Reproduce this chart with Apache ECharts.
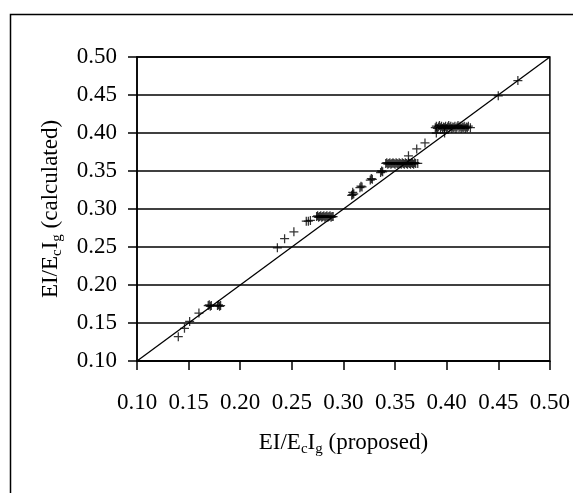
<!DOCTYPE html>
<html>
<head>
<meta charset="utf-8">
<script src="https://cdn.jsdelivr.net/npm/echarts@6/dist/echarts.min.js"></script>
<style>
  html, body { margin: 0; padding: 0; background: #fff; }
  #chart { width: 573px; height: 493px; }
</style>
</head>
<body>
<div id="chart"></div>
<script>
// points: [proposed, calculated]
var lowPoints = [[0.140, 0.132], [0.146, 0.143], [0.151, 0.152], [0.160, 0.163]];
var cluster017 = [[0.169, 0.173], [0.170, 0.174], [0.171, 0.172], [0.172, 0.173],
  [0.178, 0.173], [0.179, 0.174], [0.180, 0.172], [0.181, 0.173]];
var rising025 = [[0.236, 0.249], [0.243, 0.261], [0.252, 0.270], [0.264, 0.284], [0.266, 0.284], [0.268, 0.285]];
var cluster029 = [[0.274, 0.290], [0.275, 0.291], [0.276, 0.289], [0.277, 0.290], [0.278, 0.291], [0.279, 0.289],
  [0.280, 0.290], [0.281, 0.291], [0.282, 0.289], [0.283, 0.290], [0.284, 0.291], [0.285, 0.289],
  [0.286, 0.290], [0.287, 0.291], [0.288, 0.289], [0.289, 0.290], [0.290, 0.290]];
var rising032 = [[0.308, 0.318], [0.309, 0.322], [0.310, 0.320], [0.309, 0.319],
  [0.316, 0.328], [0.317, 0.330], [0.318, 0.329],
  [0.326, 0.338], [0.327, 0.340], [0.328, 0.339],
  [0.336, 0.348], [0.337, 0.350], [0.338, 0.349]];
var cluster036 = [[0.341, 0.360], [0.342, 0.361], [0.343, 0.359], [0.344, 0.360], [0.345, 0.361], [0.346, 0.359],
  [0.347, 0.360], [0.348, 0.361], [0.349, 0.360], [0.350, 0.359], [0.351, 0.361], [0.352, 0.360],
  [0.353, 0.359], [0.354, 0.361], [0.355, 0.360], [0.356, 0.359], [0.357, 0.361], [0.358, 0.360],
  [0.359, 0.359], [0.360, 0.361], [0.361, 0.360], [0.362, 0.359], [0.363, 0.361], [0.364, 0.360],
  [0.365, 0.359], [0.366, 0.361], [0.367, 0.360], [0.368, 0.359], [0.369, 0.361], [0.370, 0.360],
  [0.372, 0.360]];
var rising038 = [[0.363, 0.370], [0.371, 0.379], [0.379, 0.387], [0.390, 0.400], [0.398, 0.400]];
var cluster041 = [[0.389, 0.407], [0.390, 0.409], [0.391, 0.406], [0.392, 0.408], [0.393, 0.410], [0.394, 0.407],
  [0.395, 0.409], [0.396, 0.406], [0.397, 0.408], [0.398, 0.407], [0.399, 0.409], [0.400, 0.406],
  [0.401, 0.408], [0.402, 0.410], [0.403, 0.407], [0.404, 0.409], [0.405, 0.406], [0.406, 0.408],
  [0.407, 0.407], [0.408, 0.409], [0.409, 0.406], [0.410, 0.408], [0.411, 0.410], [0.412, 0.407],
  [0.413, 0.409], [0.414, 0.406], [0.415, 0.408], [0.416, 0.407], [0.417, 0.409], [0.418, 0.406],
  [0.419, 0.408], [0.420, 0.407], [0.421, 0.409], [0.423, 0.407]];
var highPoints = [[0.450, 0.449], [0.469, 0.469]];
var equalityLine = [[0.10, 0.10], [0.50, 0.50]];
var axisMin = 0.10, axisMax = 0.50, axisStep = 0.05;

var font = "'Liberation Serif', 'Times New Roman', serif";
var plus = 'path://M4.3,0H5.7V4.3H10V5.7H5.7V10H4.3V5.7H0V4.3H4.3Z';

var allPoints = [].concat(lowPoints, cluster017, rising025, cluster029, rising032,
  cluster036, rising038, cluster041, highPoints);

function subName(main1, sub1, main2, sub2, rest) {
  return '{t|' + main1 + '}{s|' + sub1 + '}{t|' + main2 + '}{s|' + sub2 + '}{t|' + rest + '}';
}
var nameRich = {
  t: { fontSize: 23, fontFamily: font, color: '#000', lineHeight: 28 },
  s: { fontSize: 15, fontFamily: font, color: '#000', verticalAlign: 'bottom', padding: [12, 0, 0, 0] }
};

var myChart = echarts.init(document.getElementById('chart'));
myChart.setOption({
  animation: false,
  backgroundColor: '#fff',
  grid: {
    left: 137, top: 57, right: 21, bottom: 132,
    show: true, borderColor: '#000', borderWidth: 1.5
  },
  graphic: [{
    type: 'polyline',
    shape: { points: [[10.5, 493], [10.5, 14.5], [573, 14.5]] },
    style: { stroke: '#000', lineWidth: 1.5, fill: null }
  }],
  xAxis: {
    type: 'value',
    min: axisMin, max: axisMax, interval: axisStep,
    name: subName('EI/E', 'c', 'I', 'g', ' (proposed)'),
    nameLocation: 'middle',
    nameGap: 68,
    nameTextStyle: { rich: nameRich },
    axisLine: { show: true, lineStyle: { color: '#000', width: 1.5 } },
    axisTick: { show: true, inside: false, length: 9, lineStyle: { color: '#000', width: 1.5 } },
    splitLine: { show: false },
    axisLabel: {
      margin: 30, color: '#000', fontSize: 23, fontFamily: font,
      formatter: function (v) { return v.toFixed(2); }
    }
  },
  yAxis: {
    type: 'value',
    min: axisMin, max: axisMax, interval: axisStep,
    name: subName('EI/E', 'c', 'I', 'g', ' (calculated)'),
    nameLocation: 'middle',
    nameRotate: 90,
    nameGap: 72,
    nameTextStyle: { rich: nameRich },
    axisLine: { show: true, lineStyle: { color: '#000', width: 1.5 } },
    axisTick: { show: true, inside: false, length: 9, lineStyle: { color: '#000', width: 1.5 } },
    splitLine: { show: true, lineStyle: { color: '#000', width: 1.5 } },
    axisLabel: {
      margin: 20, color: '#000', fontSize: 23, fontFamily: font,
      formatter: function (v) { return v.toFixed(2); }
    }
  },
  series: [
    {
      type: 'line',
      data: equalityLine,
      symbol: 'none',
      silent: true,
      lineStyle: { color: '#000', width: 1.3 },
      z: 2
    },
    {
      type: 'scatter',
      data: allPoints,
      symbol: plus,
      symbolSize: 9,
      itemStyle: { color: '#000' },
      z: 3
    }
  ]
});
</script>
</body>
</html>
